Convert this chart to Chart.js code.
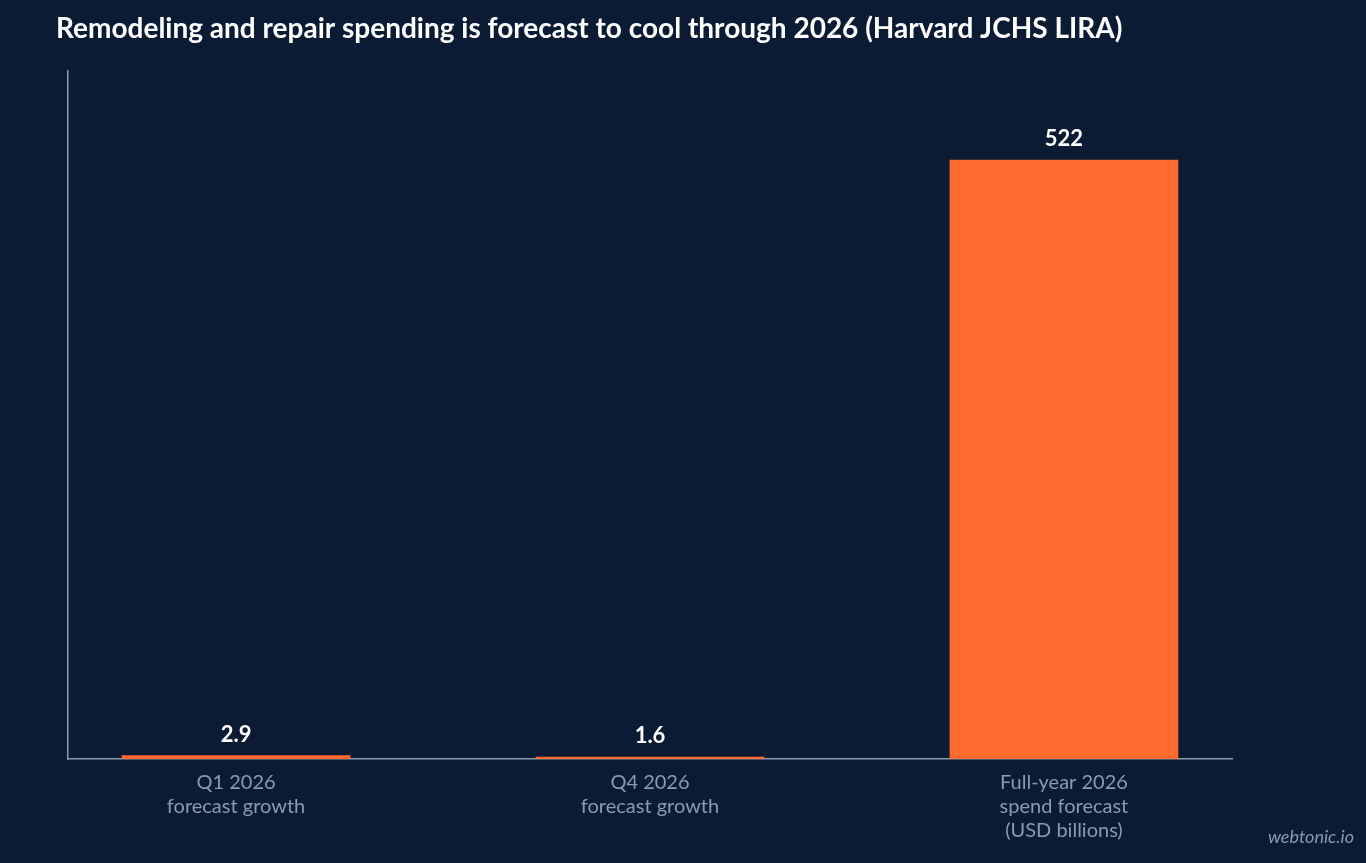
<!DOCTYPE html>
<html><head><meta charset="utf-8">
<script src="https://cdn.jsdelivr.net/npm/chart.js@4"></script>
<style>html,body{margin:0;padding:0;background:#0b1b33;}#w{width:1366px;height:863px;position:relative}
#wm{position:absolute;right:12px;bottom:16px;color:#8a9ab0;font:italic 18px Lato;}</style>
</head><body><div id="w"><canvas id="c"></canvas><div id="wm">webtonic.io</div></div>
<script>
const categories=[["Q1 2026","forecast growth"],["Q4 2026","forecast growth"],["Full-year 2026","spend forecast","(USD billions)"]];
const values=[2.9,1.6,522];
const labels=["2.9","1.6","522"];
const yTicks=[0,100,200,300,400,500,600];
const tickColor="#8a9ab0";
const dl={id:'dl',afterDatasetsDraw(ch){const ctx=ch.ctx;const m=ch.getDatasetMeta(0);ctx.save();ctx.fillStyle='#ffffff';ctx.font='bold 22px Lato';ctx.textAlign='center';ctx.textBaseline='bottom';
m.data.forEach((b,i)=>ctx.fillText(labels[i],b.x,b.y-10));ctx.restore();}};
new Chart(document.getElementById('c'),{type:'bar',
data:{datasets:[{data:values.map((v,i)=>({x:i,y:v})),backgroundColor:'#ff6b2e',barThickness:228}]},
options:{responsive:true,maintainAspectRatio:false,animation:false,
layout:{padding:{left:56,right:134,top:4,bottom:8}},
plugins:{legend:{display:false},tooltip:{enabled:false},
title:{display:true,text:'Remodeling and repair spending is forecast to cool through 2026 (Harvard JCHS LIRA)',color:'#ffffff',font:{family:'Lato',size:28,weight:'bold'},align:'start',padding:{top:8,bottom:25}}},
scales:{y:{min:0,max:600,afterFit(a){a.width=12;},afterBuildTicks(a){a.ticks=yTicks.map(v=>({value:v}));},grid:{display:false,drawTicks:true,tickLength:8,color:tickColor},border:{color:tickColor,width:1.5},
ticks:{color:tickColor,font:{family:'Lato',size:20},padding:4}},
x:{type:'linear',min:-0.406,max:2.406,offset:false,afterBuildTicks(a){a.ticks=[0,1,2].map(v=>({value:v}));},grid:{display:false,tickLength:0},border:{color:tickColor,width:1.5},
ticks:{color:tickColor,font:{family:'Lato',size:20},padding:12,callback:v=>categories[v]}}}},
plugins:[dl]});
</script></body></html>
